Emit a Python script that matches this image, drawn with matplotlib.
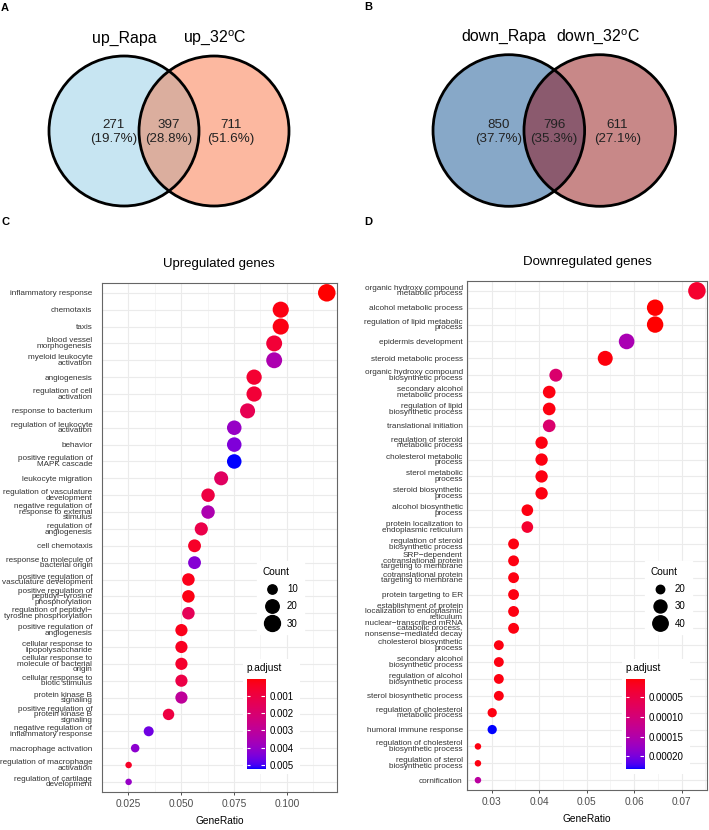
import numpy as np
import matplotlib
matplotlib.use('Agg')
import matplotlib.pyplot as plt
from matplotlib.patches import Circle, Rectangle
from matplotlib.colors import ListedColormap, Normalize
from matplotlib.lines import Line2D

plt.rcParams['font.family'] = ['Liberation Sans', 'DejaVu Sans']
plt.rcParams['mathtext.fontset'] = 'custom'
plt.rcParams['mathtext.rm'] = 'Liberation Sans'

# ---- data ----
venn_up_names = ['up_Rapa', r'up_32$^{\mathrm{o}}$C']
venn_up_counts = [271, 397, 711]
venn_down_names = ['down_Rapa', r'down_32$^{\mathrm{o}}$C']
venn_down_counts = [850, 796, 611]

up_terms = [
    'inflammatory response', 'chemotaxis', 'taxis', 'blood vessel\nmorphogenesis',
    'myeloid leukocyte\nactivation', 'angiogenesis', 'regulation of cell\nactivation',
    'response to bacterium', 'regulation of leukocyte\nactivation', 'behavior',
    'positive regulation of\nMAPK cascade', 'leukocyte migration',
    'regulation of vasculature\ndevelopment',
    'negative regulation of\nresponse to external\nstimulus',
    'regulation of\nangiogenesis', 'cell chemotaxis',
    'response to molecule of\nbacterial origin',
    'positive regulation of\nvasculature development',
    'positive regulation of\npeptidyl\u2212tyrosine\nphosphorylation',
    'regulation of peptidyl\u2212\ntyrosine phosphorylation',
    'positive regulation of\nangiogenesis', 'cellular response to\nlipopolysaccharide',
    'cellular response to\nmolecule of bacterial\norigin',
    'cellular response to\nbiotic stimulus', 'protein kinase B\nsignaling',
    'positive regulation of\nprotein kinase B\nsignaling',
    'negative regulation of\ninflammatory response', 'macrophage activation',
    'regulation of macrophage\nactivation', 'regulation of cartilage\ndevelopment']
up_ratio = [0.1189, 0.0971, 0.0971, 0.0940, 0.0940, 0.0845, 0.0845, 0.0814, 0.0751, 0.0751,
            0.0751, 0.0689, 0.0627, 0.0627, 0.0595, 0.0563, 0.0563, 0.0534, 0.0534, 0.0534,
            0.0501, 0.0501, 0.0501, 0.0501, 0.0501, 0.0440, 0.0346, 0.0282, 0.0251, 0.0251]
up_count = [38, 31, 31, 30, 30, 27, 27, 26, 24, 24, 24, 22, 20, 20, 19,
            18, 18, 17, 17, 17, 16, 16, 16, 16, 16, 14, 11, 9, 8, 8]
up_padj = [0.00002, 0.0002, 0.0002, 0.0008, 0.0035, 0.0007, 0.0008, 0.0014, 0.0040, 0.0044,
           0.00523, 0.0017, 0.0010, 0.0035, 0.0012, 0.0005, 0.0043, 0.0003, 0.0002, 0.0015,
           0.0003, 0.0004, 0.0006, 0.0011, 0.0030, 0.0010, 0.0046, 0.0042, 0.0005, 0.0040]

down_terms = [
    'organic hydroxy compound\nmetabolic process', 'alcohol metabolic process',
    'regulation of lipid metabolic\nprocess', 'epidermis development',
    'steroid metabolic process', 'organic hydroxy compound\nbiosynthetic process',
    'secondary alcohol\nmetabolic process', 'regulation of lipid\nbiosynthetic process',
    'translational initiation', 'regulation of steroid\nmetabolic process',
    'cholesterol metabolic\nprocess', 'sterol metabolic\nprocess',
    'steroid biosynthetic\nprocess', 'alcohol biosynthetic\nprocess',
    'protein localization to\nendoplasmic reticulum',
    'regulation of steroid\nbiosynthetic process',
    'SRP\u2212dependent\ncotranslational protein\ntargeting to membrane',
    'cotranslational protein\ntargeting to membrane', 'protein targeting to ER',
    'establishment of protein\nlocalization to endoplasmic\nreticulum',
    'nuclear\u2212transcribed mRNA\ncatabolic process,\nnonsense\u2212mediated decay',
    'cholesterol biosynthetic\nprocess', 'secondary alcohol\nbiosynthetic process',
    'regulation of alcohol\nbiosynthetic process', 'sterol biosynthetic process',
    'regulation of cholesterol\nmetabolic process', 'humoral immune response',
    'regulation of cholesterol\nbiosynthetic process',
    'regulation of sterol\nbiosynthetic process', 'cornification']
down_ratio = [0.0732, 0.0644, 0.0644, 0.0584, 0.0539, 0.0435, 0.0421, 0.0421, 0.0421, 0.0405,
              0.0405, 0.0405, 0.0405, 0.0375, 0.0375, 0.0346, 0.0346, 0.0346, 0.0346, 0.0346,
              0.0346, 0.0315, 0.0315, 0.0315, 0.0315, 0.0301, 0.0301, 0.0271, 0.0271, 0.0271]
down_count = [51, 45, 45, 41, 38, 30, 29, 29, 29, 28, 28, 28, 28, 26, 26,
              24, 24, 24, 24, 24, 24, 22, 22, 22, 22, 21, 21, 19, 19, 19]
down_padj = [0.00003, 0.000003, 0.000003, 0.00016, 0.000008, 0.00009, 0.00001, 0.00001,
             0.00009, 0.00001, 0.00001, 0.00001, 0.00001, 0.00001, 0.00003, 0.00001,
             0.00001, 0.00001, 0.00001, 0.00001, 0.00001, 0.00001, 0.00001, 0.00001,
             0.00001, 0.00001, 0.000233, 0.00001, 0.00001, 0.00014]

W, H = 709, 830


def rect(l, t, r, b):
    # pixel box -> figure fraction
    return [l / W, 1 - b / H, (r - l) / W, (b - t) / H]


def fpos(x, y):
    return x / W, 1 - y / H


# red -> blue gradient interpolated in Lab, like ggplot
def _lab(rgb):
    c = np.asarray(rgb, float)
    c = np.where(c > 0.04045, ((c + 0.055) / 1.055) ** 2.4, c / 12.92)
    M = np.array([[0.4124, 0.3576, 0.1805], [0.2126, 0.7152, 0.0722], [0.0193, 0.1192, 0.9505]])
    xyz = M @ c / np.array([0.95047, 1.0, 1.08883])
    f = np.where(xyz > 0.008856, np.cbrt(xyz), 7.787 * xyz + 16 / 116)
    return np.array([116 * f[1] - 16, 500 * (f[0] - f[1]), 200 * (f[1] - f[2])])


def _rgb(lab):
    L, a, b = lab
    fy = (L + 16) / 116
    f = np.array([fy + a / 500, fy, fy - b / 200])
    xyz = np.where(f ** 3 > 0.008856, f ** 3, (f - 16 / 116) / 7.787) * np.array([0.95047, 1.0, 1.08883])
    Mi = np.array([[3.2406, -1.5372, -0.4986], [-0.9689, 1.8758, 0.0415], [0.0557, -0.2040, 1.0570]])
    c = Mi @ xyz
    c = np.where(c > 0.0031308, 1.055 * np.abs(c) ** (1 / 2.4) - 0.055, 12.92 * c)
    return np.clip(c, 0, 1)


lr, lb = _lab([1, 0, 0]), _lab([0, 0, 1])
cmap = ListedColormap([_rgb(lr + t * (lb - lr)) for t in np.linspace(0, 1, 256)])


def venn(ax, names, counts, colors, name_x):
    a, ab, b = counts
    tot = float(a + ab + b)
    c1 = Circle((-0.6, 0), 1, fc=colors[0], ec='none')
    c2 = Circle((0.6, 0), 1, fc=colors[1], ec='none')
    ax.add_patch(c1)
    ax.add_patch(c2)
    lens = Circle((0.6, 0), 1, fc=colors[2], ec='none')
    ax.add_patch(lens)
    lens.set_clip_path(c1)
    for cx in (-0.6, 0.6):
        ax.add_patch(Circle((cx, 0), 1, fill=False, ec='black', lw=2))
    for x, n in zip((-0.74, 0.0, 0.83), (a, ab, b)):
        ax.text(x, -0.015, '%d\n(%.1f%%)' % (n, 100 * n / tot), ha='center', va='center',
                fontsize=9.6, color='#222222', linespacing=1.2)
    for x, nm in zip(name_x, names):
        ax.text(x, 1.24, nm, ha='center', va='center', fontsize=11.4)
    ax.set_xlim(-1.9, 1.9)
    ax.set_ylim(-1.3, 1.5)
    ax.set_aspect('equal')
    ax.axis('off')


def dot_size(c, cmin, cmax):
    d = 6.5 + 11 * np.sqrt((np.asarray(c, float) - cmin) / (cmax - cmin))
    return d * 0.72


def dotplot(ax, terms, ratio, count, padj, title, xlim, xticks, xfmt, sbreaks, cticks, cfmt,
            leg_xy, cbar_box, white_box, ypad):
    n = len(terms)
    y = np.arange(n)
    cmin, cmax = min(count), max(count)
    norm = Normalize(min(padj), max(padj))
    ax.scatter(ratio, y, s=dot_size(count, cmin, cmax) ** 2, c=padj, cmap=cmap, norm=norm,
               edgecolors='none', zorder=3)
    ax.set_xlim(*xlim)
    ax.set_ylim(n - 0.4, -0.6)
    ax.set_yticks(y)
    ax.set_yticklabels(terms, fontsize=5.9, linespacing=0.72, color='#333333')
    ax.set_xticks(xticks)
    ax.set_xticklabels([xfmt % v for v in xticks], fontsize=7.3, color='#4D4D4D')
    ax.set_xticks([(xticks[i] + xticks[i + 1]) / 2 for i in range(len(xticks) - 1)] +
                  [xticks[0] - (xticks[1] - xticks[0]) / 2, xticks[-1] + (xticks[1] - xticks[0]) / 2],
                  minor=True)
    ax.tick_params(axis='y', length=0, pad=ypad)
    ax.tick_params(axis='x', which='major', length=2.5, width=0.6, color='#333333', pad=2.5)
    ax.tick_params(axis='x', which='minor', length=0)
    ax.grid(True, which='major', color='#EBEBEB', lw=0.8, zorder=0)
    ax.grid(True, which='minor', axis='x', color='#F2F2F2', lw=0.5, zorder=0)
    ax.set_axisbelow(True)
    for s in ax.spines.values():
        s.set_color('#666666')
        s.set_linewidth(0.8)
    ax.set_xlabel('GeneRatio', fontsize=7.3, labelpad=5)
    ax.set_title(title, fontsize=9.5, pad=11)

    # size legend
    handles = [Line2D([], [], ls='', marker='o', color='black', markersize=dot_size(v, cmin, cmax))
               for v in sbreaks]
    leg = ax.legend(handles, [str(v) for v in sbreaks], title='Count', loc='upper left',
                    bbox_to_anchor=fpos(*leg_xy), bbox_transform=ax.figure.transFigure,
                    fontsize=7, title_fontsize=7.3, frameon=True, fancybox=False,
                    facecolor='white', edgecolor='white', framealpha=1, handletextpad=0.5,
                    labelspacing=0.75, borderpad=0.6, alignment='left')
    leg.set_zorder(5)

    # colour bar
    fig = ax.figure
    wb = fig.add_axes(rect(*white_box))
    wb.add_patch(Rectangle((0, 0), 1, 1, fc='white', ec='none', transform=wb.transAxes))
    wb.axis('off')
    cax = fig.add_axes(rect(*cbar_box))
    vmin, vmax = norm.vmin, norm.vmax
    cax.imshow(np.linspace(vmin, vmax, 256)[:, None], aspect='auto', cmap=cmap, norm=norm,
               extent=(0, 1, vmax, vmin), origin='upper')
    cax.set_xlim(0, 1)
    cax.set_ylim(vmax, vmin)
    cax.hlines(cticks, 0, 0.2, color='white', lw=0.8)
    cax.hlines(cticks, 0.8, 1, color='white', lw=0.8)
    cax.set_xticks([])
    cax.set_yticks(cticks)
    cax.set_yticklabels([cfmt % v for v in cticks], fontsize=7)
    cax.yaxis.tick_right()
    cax.tick_params(axis='y', length=0, pad=3)
    for s in cax.spines.values():
        s.set_visible(False)
    fig.text(*fpos(cbar_box[0], cbar_box[1] - 11), 'p.adjust', fontsize=7.3, ha='left', va='center')


fig = plt.figure(figsize=(W / 100, H / 100), dpi=100)
fig.patch.set_facecolor('white')

# Venn diagrams
r = 75.0
axA = fig.add_axes(rect(169 - 1.9 * r, 131 - 1.5 * r, 169 + 1.9 * r, 131 + 1.3 * r))
venn(axA, venn_up_names, venn_up_counts, ['#C7E5F2', '#FCB8A0', '#DBAE9E'], (-0.6, 0.61))
r = 75.8
axB = fig.add_axes(rect(554.3 - 1.9 * r, 130.5 - 1.5 * r, 554.3 + 1.9 * r, 130.5 + 1.3 * r))
venn(axB, venn_down_names, venn_down_counts, ['#87A8C8', '#C88888', '#8B5A6E'], (-0.66, 0.58))

# dot plots
axC = fig.add_axes(rect(102, 282.7, 336.5, 792))
dotplot(axC, up_terms, up_ratio, up_count, up_padj, 'Upregulated genes',
        (0.0206, 0.1235), [0.025, 0.050, 0.075, 0.100], '%.3f', [10, 20, 30],
        [0.001, 0.002, 0.003, 0.004, 0.005], '%.3f',
        (252, 556), (246.7, 679, 265, 769), (243, 659, 300, 774), 7)

axD = fig.add_axes(rect(467.3, 280.7, 706.7, 790.3))
dotplot(axD, down_terms, down_ratio, down_count, down_padj, 'Downregulated genes',
        (0.02486, 0.07526), [0.03, 0.04, 0.05, 0.06, 0.07], '%.2f', [20, 30, 40],
        [0.00005, 0.00010, 0.00015, 0.00020], '%.5f',
        (640, 556), (625.7, 679, 644, 769), (622, 659, 690, 774), 3.3)

for lab, x, y in [('A', 5, 8), ('B', 368, 7), ('C', 5, 222), ('D', 368, 222)]:
    fig.text(*fpos(x, y), lab, fontsize=8, fontweight='bold', ha='center', va='center')

fig.savefig('out.png', dpi=100)
